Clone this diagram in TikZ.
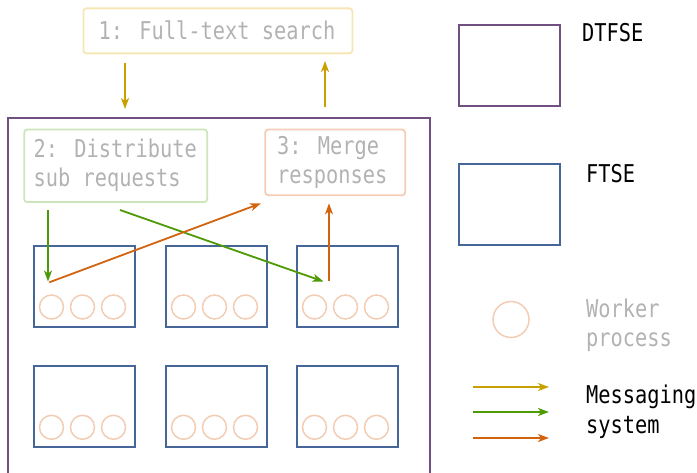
\documentclass[tikz,border=0pt]{standalone}
\usepackage{fontspec}
\setmainfont{DejaVu Sans Mono}[FakeStretch=0.83]
\usetikzlibrary{arrows.meta,calc}
\definecolor{cpurple}{RGB}{112,80,128}
\definecolor{cblue}{RGB}{70,102,152}
\definecolor{cgold}{RGB}{200,160,0}
\definecolor{cgreen}{RGB}{78,154,6}
\definecolor{corange}{RGB}{210,100,15}
\definecolor{bgold}{RGB}{245,230,180}
\definecolor{bgreen}{RGB}{205,230,185}
\definecolor{borange}{RGB}{245,205,180}
\definecolor{ccircle}{RGB}{242,205,180}
\definecolor{cgray}{RGB}{178,178,178}
\tikzset{
  stepbox/.style={draw=#1, line width=1.8pt, rounded corners=3pt, inner sep=0pt, anchor=north west},
  ftse/.style={draw=cblue, line width=1.8pt, inner sep=0pt, minimum width=101pt, minimum height=81pt, anchor=north west},
  dtfse/.style={draw=cpurple, line width=1.8pt, inner sep=0pt, anchor=north west},
  worker/.style={draw=ccircle, line width=1.5pt, circle, inner sep=0pt, minimum size=24pt},
  txt/.style={inner sep=0pt, font=\fontsize{24.5}{29.5}\selectfont, align=left},
  msg/.style={-{Stealth[length=11pt,width=8pt,inset=3pt]}, line width=1.8pt},
}
\begin{document}
\begin{tikzpicture}[x=1pt,y=-1pt]
\useasboundingbox (0,0) rectangle (697,473);
% step boxes
\node[stepbox=bgold, minimum width=269pt, minimum height=45pt] (n1) at (82.5,7.5) {};
\node[txt, text=cgray, anchor=base] (t1) at (217,39.3) {1: Full-text search};
% outer DTFSE
\node[dtfse, minimum width=422pt, minimum height=355pt] (outer) at (7,117.5) {};
\node[stepbox=bgreen, minimum width=183pt, minimum height=72.5pt] (n2) at (23.3,128.7) {};
\node[txt, text=cgray, anchor=base west] (t2) at (33.5,186.7) {2: Distribute\\sub requests};
\node[stepbox=borange, minimum width=140pt, minimum height=65.6pt] (n3) at (264.3,128.7) {};
\node[txt, text=cgray, anchor=base west] (t3) at (277,184) {3: Merge\\responses};
% FTSE boxes and workers
\foreach \c/\x in {1/33,2/165,3/296}{
  \foreach \r/\y in {1/245,2/365.3}{
    \node[ftse] (f\r\c) at (\x,\y) {};
    \foreach \k in {1,2,3}{
      \node[worker] (w\r\c\k) at ($(\x,\y)+(-12.5+31*\k,62)$) {};
    }
  }
}
% arrow endpoints
\coordinate (g1s) at (125,63.3);
\coordinate (g1e) at (125,109);
\coordinate (g2s) at (325,107.3);
\coordinate (g2e) at (325,61);
\coordinate (gr1s) at (48,210);
\coordinate (gr1e) at (48,281.5);
\coordinate (gr2s) at (120,210);
\coordinate (gr2e) at (323.5,281.5);
\coordinate (or1s) at (49.3,282.3);
\coordinate (or1e) at (261,203.3);
\coordinate (or2s) at (329,281);
\coordinate (or2e) at (329,203.3);
\draw[msg, cgold] (g1s) -- (g1e);
\draw[msg, cgold] (g2s) -- (g2e);
\draw[msg, cgreen] (gr1s) -- (gr1e);
\draw[msg, cgreen] (gr2s) -- (gr2e);
\draw[msg, corange] (or1s) -- (or1e);
\draw[msg, corange] (or2s) -- (or2e);
% legend
\node[dtfse, minimum width=101pt, minimum height=81pt] (ld) at (458,24) {};
\node[txt, anchor=base west] (ldt) at (582,41.7) {DTFSE};
\node[ftse] (lf) at (458,163) {};
\node[txt, anchor=base west] (lft) at (586,183) {FTSE};
\node[worker, minimum size=36pt] (lw) at (511,319.5) {};
\node[txt, text=cgray, anchor=base west] (lwt) at (586,347) {Worker\\process};
\coordinate (la1s) at (473.3,387); \coordinate (la1e) at (549,387);
\coordinate (la2s) at (473.3,412); \coordinate (la2e) at (549,412);
\coordinate (la3s) at (473.3,438); \coordinate (la3e) at (549,438);
\draw[msg, cgold] (la1s) -- (la1e);
\draw[msg, cgreen] (la2s) -- (la2e);
\draw[msg, corange] (la3s) -- (la3e);
\node[txt, anchor=base west] (lmt) at (586,433) {Messaging\\system};
\end{tikzpicture}
\end{document}
